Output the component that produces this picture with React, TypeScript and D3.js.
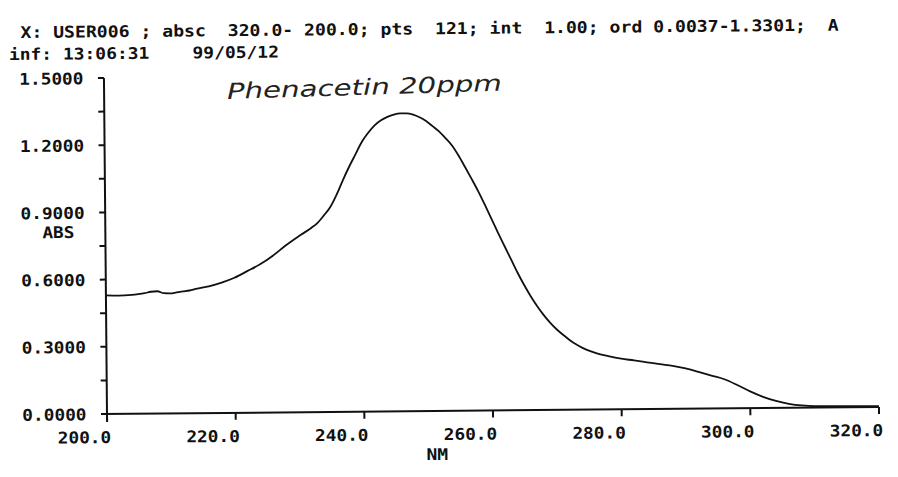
import React from "react";
import * as d3 from "d3";

// ---- data ----
const wavelengths = [
  200, 202, 204, 205, 206, 207, 208, 209, 210, 211, 212, 213, 214, 216, 218, 220,
  222, 224, 226, 228, 230, 232, 233, 234, 235, 236, 237, 238, 239, 240, 241, 242,
  243, 244, 245, 246, 247, 248, 249, 250, 251, 252, 253, 254, 255, 256, 257, 258,
  259, 260, 261, 262, 263, 264, 265, 266, 267, 268, 269, 270, 271, 272, 273, 274,
  275, 276, 278, 280, 282, 284, 286, 288, 290, 292, 294, 296, 298, 300, 302, 304,
  306, 308, 310, 314, 318, 320,
];
const absorbance = [
  0.530, 0.528, 0.531, 0.534, 0.538, 0.544, 0.546, 0.537, 0.536, 0.540, 0.544, 0.548, 0.555, 0.566, 0.582, 0.603,
  0.632, 0.662, 0.700, 0.745, 0.785, 0.822, 0.845, 0.878, 0.915, 0.970, 1.035, 1.095, 1.150, 1.205, 1.245, 1.278,
  1.300, 1.315, 1.325, 1.330, 1.330, 1.324, 1.312, 1.295, 1.272, 1.248, 1.218, 1.185, 1.140, 1.088, 1.035, 0.980,
  0.920, 0.858, 0.795, 0.735, 0.675, 0.615, 0.560, 0.510, 0.465, 0.425, 0.390, 0.360, 0.335, 0.312, 0.292, 0.276,
  0.263, 0.253, 0.238, 0.226, 0.218, 0.209, 0.200, 0.192, 0.180, 0.164, 0.147, 0.130, 0.104, 0.075, 0.050, 0.031,
  0.018, 0.010, 0.006, 0.005, 0.004, 0.004,
];
const xTicks = [200, 220, 240, 260, 280, 300, 320];
const yTicks = [0, 0.3, 0.6, 0.9, 1.2, 1.5];
const yMinorTicks = [0.15, 0.45, 0.75, 1.05, 1.35];
const headerLine1 = "X: USER006 ; absc  320.0- 200.0; pts  121; int  1.00; ord 0.0037-1.3301;  A";
const headerLine2 = "inf: 13:06:31    99/05/12";
const yAxisLabel = "ABS";
const xAxisLabel = "NM";
const annotation = "Phenacetin 20ppm";

const W = 898;
const H = 477;
const MONO = "'DejaVu Sans Mono', 'Liberation Mono', monospace";

export default function App() {
  const x = d3.scaleLinear().domain([200, 320]).range([107, 879]);
  const y = d3.scaleLinear().domain([0, 1.5]).range([414, 78]);
  const pts: [number, number][] = wavelengths.map((w, i) => [w, absorbance[i]]);
  const line = d3
    .line<[number, number]>()
    .x((d) => x(d[0]))
    .y((d) => y(d[1]))
    .curve(d3.curveMonotoneX);

  const monoText = {
    fontFamily: MONO,
    fontWeight: 700,
    fontSize: 16,
    fill: "#111",
    style: { whiteSpace: "pre" as const },
    xmlSpace: "preserve",
  };

  return (
    <svg
      width={W}
      height={H}
      style={{ position: "absolute", left: 0, top: 0, display: "block", background: "#fff" }}
    >
      <rect width={W} height={H} fill="#fff" />
      <g transform="rotate(-0.52, 107, 414)">
        {/* header */}
        <text x={23.9} y={37.2} {...monoText} textLength={headerLine1.length * 10.91} lengthAdjust="spacingAndGlyphs">
          {headerLine1}
        </text>
        <text x={12.2} y={59.1} {...monoText} textLength={headerLine2.length * 10.8} lengthAdjust="spacingAndGlyphs">
          {headerLine2}
        </text>

        {/* handwritten annotation */}
        <text
          x={230}
          y={100}
          transform="rotate(-1.2, 230, 100)"
          fontFamily="'DejaVu Sans', 'Noto Sans', sans-serif"
          fontWeight={200}
          fontStyle="italic"
          fontSize={22}
          fill="#222"
          textLength={275}
          lengthAdjust="spacingAndGlyphs"
        >
          {annotation}
        </text>

        {/* y axis */}
        <line x1={x(200)} x2={x(200)} y1={y(1.5)} y2={y(0) + 8} stroke="#111" strokeWidth={2} />
        {yTicks.map((t) => (
          <g key={"yt" + t}>
            <line x1={x(200) - 6} x2={x(200)} y1={y(t)} y2={y(t)} stroke="#111" strokeWidth={2} />
            <text
              x={86.5}
              y={y(t) + 6}
              textAnchor="end"
              {...monoText}
              textLength={6 * 10.7}
              lengthAdjust="spacingAndGlyphs"
            >
              {t.toFixed(4)}
            </text>
          </g>
        ))}
        {yMinorTicks.map((t) => (
          <line key={"ym" + t} x1={x(200) - 6} x2={x(200)} y1={y(t)} y2={y(t)} stroke="#111" strokeWidth={2} />
        ))}
        <text x={44} y={237.6} {...monoText} textLength={3 * 10.7} lengthAdjust="spacingAndGlyphs">
          {yAxisLabel}
        </text>

        {/* x axis */}
        <line x1={x(200) - 6} x2={x(320)} y1={y(0)} y2={y(0)} stroke="#111" strokeWidth={2} />
        {xTicks.map((t) => (
          <g key={"xt" + t}>
            <line x1={x(t)} x2={x(t)} y1={y(0)} y2={y(0) + 7} stroke="#111" strokeWidth={2} />
            <text
              x={x(t) + 4}
              y={443}
              textAnchor="end"
              {...monoText}
              textLength={5 * 10.7}
              lengthAdjust="spacingAndGlyphs"
            >
              {t.toFixed(1)}
            </text>
          </g>
        ))}
        <text x={426} y={463} {...monoText} textLength={2 * 10.9} lengthAdjust="spacingAndGlyphs">
          {xAxisLabel}
        </text>

        {/* spectrum */}
        <path d={line(pts) ?? ""} fill="none" stroke="#111" strokeWidth={1.8} strokeLinejoin="round" />
      </g>
    </svg>
  );
}
